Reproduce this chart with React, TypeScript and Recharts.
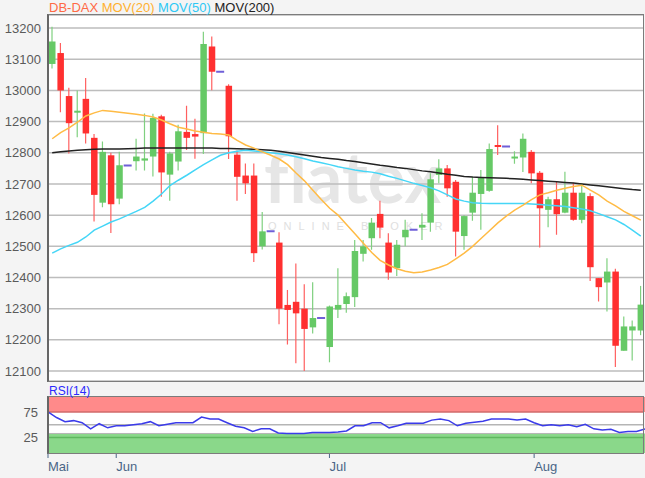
import { ComposedChart, Bar, Line, XAxis, YAxis, CartesianGrid, ReferenceArea, ReferenceLine } from 'recharts';

// daily candles (index 1 = first day shown)
const opens = [13085, 13120, 12982, 12932, 12973, 12848, 12640, 12792, 12653, 12759,
  12773, 12775, 12788, 12917, 12730, 12772, 12867, 12860, 12863, 13141,
  13060, 13015, 12794, 12727, 12727, 12500, 12548, 12512, 12312, 12322,
  12300, 12240, 12270, 12177, 12297, 12315, 12337, 12476, 12526, 12604,
  12512, 12430, 12529, 12553, 12560, 12576, 12729, 12750, 12707, 12533,
  12608, 12668, 12678, 12825, 12820, 12785, 12785, 12803, 12736, 12617,
  12651, 12608, 12672, 12585, 12661, 12398, 12384, 12419, 12165, 12230,
  12230];
const highs = [13204, 13152, 13009, 13000, 13040, 12860, 12836, 12800, 12803, 12759,
  12845, 12926, 12925, 12922, 12803, 12890, 12951, 12909, 13188, 13173,
  13060, 13020, 12807, 12766, 12766, 12610, 12548, 12545, 12360, 12445,
  12378, 12385, 12270, 12310, 12430, 12352, 12520, 12520, 12591, 12646,
  12542, 12520, 12585, 12553, 12606, 12734, 12779, 12761, 12713, 12600,
  12723, 12745, 12830, 12888, 12820, 12805, 12862, 12809, 12742, 12659,
  12707, 12739, 12704, 12702, 12670, 12398, 12462, 12428, 12275, 12262,
  12373];
const lows = [13070, 12930, 12798, 12850, 12830, 12580, 12625, 12543, 12635, 12759,
  12743, 12743, 12724, 12659, 12646, 12743, 12809, 12781, 12796, 13001,
  13060, 12780, 12646, 12668, 12450, 12490, 12548, 12250, 12185, 12125,
  12100, 12220, 12270, 12128, 12270, 12287, 12305, 12451, 12489, 12526,
  12393, 12405, 12500, 12553, 12520, 12547, 12702, 12659, 12467, 12489,
  12582, 12553, 12675, 12793, 12820, 12765, 12738, 12702, 12496, 12561,
  12537, 12606, 12582, 12574, 12389, 12323, 12291, 12113, 12165, 12134,
  12215];
const closes = [13157, 13000, 12895, 12935, 12862, 12665, 12803, 12635, 12760, 12759,
  12788, 12782, 12912, 12737, 12798, 12869, 12848, 12852, 13149, 13060,
  13060, 12853, 12723, 12702, 12478, 12548, 12548, 12300, 12296, 12285,
  12235, 12270, 12270, 12307, 12312, 12340, 12485, 12500, 12576, 12560,
  12416, 12505, 12553, 12553, 12569, 12715, 12750, 12686, 12547, 12597,
  12672, 12721, 12812, 12822, 12820, 12788, 12845, 12734, 12622, 12651,
  12603, 12672, 12585, 12672, 12433, 12369, 12419, 12181, 12243, 12243,
  12313];

const ma20 = [12845, 12865, 12880, 12898, 12918, 12928, 12936, 12933, 12930, 12927,
  12924, 12920, 12915, 12905, 12893, 12882, 12876, 12870, 12866, 12862,
  12860, 12857, 12840, 12825, 12815, 12803, 12792, 12780, 12762, 12735,
  12710, 12680, 12650, 12622, 12600, 12570, 12540, 12510, 12480, 12455,
  12440, 12428, 12420, 12415, 12418, 12424, 12432, 12442, 12460, 12478,
  12500, 12525, 12550, 12575, 12597, 12616, 12632, 12650, 12665, 12672,
  12680, 12686, 12692, 12696, 12680, 12665, 12645, 12630, 12612, 12598,
  12584];
const ma50 = [12478, 12492, 12503, 12513, 12530, 12552, 12565, 12578, 12588, 12600,
  12612, 12625, 12645, 12668, 12695, 12712, 12728, 12745, 12762, 12777,
  12792, 12800, 12805, 12808, 12806, 12803, 12800, 12797, 12793, 12787,
  12781, 12774, 12768, 12762, 12755, 12750, 12745, 12741, 12738, 12733,
  12725, 12718, 12710, 12702, 12695, 12688, 12678, 12665, 12652, 12645,
  12640, 12638, 12637, 12637, 12637, 12637, 12637, 12636, 12634, 12632,
  12630, 12628, 12624, 12620, 12614, 12605, 12595, 12585, 12570, 12552,
  12533];
const ma200 = [12800, 12803, 12806, 12808, 12810, 12811, 12812, 12812, 12812, 12813,
  12814, 12815, 12815, 12815, 12815, 12815, 12815, 12815, 12815, 12815,
  12814, 12814, 12813, 12812, 12811, 12810, 12808, 12805, 12801, 12797,
  12793, 12789, 12785, 12782, 12779, 12775, 12772, 12768, 12764, 12760,
  12757, 12753, 12750, 12746, 12742, 12739, 12735, 12731, 12728, 12724,
  12722, 12721, 12720, 12719, 12718, 12717, 12715, 12713, 12711, 12709,
  12707, 12705, 12703, 12700, 12697, 12694, 12691, 12688, 12685, 12682,
  12680];
const rsi = [75, 64, 56, 58, 54, 42, 52, 44, 48, 48,
  50, 52, 56, 48, 51, 54, 54, 54, 65, 61,
  61, 54, 47, 44, 37, 42, 42, 34, 33, 33,
  33, 35, 35, 35, 36, 38, 48, 48, 54, 54,
  44, 48, 53, 53, 53, 59, 61, 58, 48, 53,
  55, 57, 61, 61, 61, 59, 61, 54, 48, 50,
  48, 50, 46, 51, 42, 40, 41, 35, 37, 37,
  42];

const priceTicks = [12100, 12200, 12300, 12400, 12500, 12600, 12700, 12800, 12900, 13000, 13100, 13200];
const rsiTicks = [25, 75];
const monthTicks = [1, 9, 34, 58];
const monthLabels = ['Mai', 'Jun', 'Jul', 'Aug'];

const data = opens.map((o, i) => ({
  i: i + 1,
  o,
  h: highs[i],
  l: lows[i],
  c: closes[i],
  ma20: ma20[i],
  ma50: ma50[i],
  ma200: ma200[i],
  rsi: rsi[i],
}));

const FONT = '"Liberation Sans", Arial, sans-serif';

function Candle(props: any) {
  const { x, y, width, height, payload } = props;
  const { o, h, l, c } = payload;
  const cx = x + width / 2;
  if (h === l) {
    return <line x1={cx - 4} x2={cx + 4} y1={y} y2={y} stroke="#6f5fd8" strokeWidth={2} />;
  }
  const top = Math.min(y, y + height);
  const k = Math.abs(height) / (h - l);
  const yo = top + (h - o) * k;
  const yc = top + (h - c) * k;
  const up = c >= o;
  const bodyTop = Math.min(yo, yc);
  const bodyH = Math.max(2, Math.abs(yc - yo));
  return (
    <g>
      <line x1={cx} x2={cx} y1={top} y2={top + Math.abs(height)} stroke={up ? '#7fd07f' : '#ff6060'} strokeWidth={1.2} />
      <rect x={cx - 3} y={bodyTop} width={6.5} height={bodyH} fill={up ? '#66c966' : '#ff3030'} />
    </g>
  );
}

function MonthTick(props: any) {
  const { x, y, payload } = props;
  return (
    <text x={x} y={y + 13} fill="#4a6687" fontSize={13} fontFamily={FONT} textAnchor="start">
      {monthLabels[monthTicks.indexOf(payload.value)]}
    </text>
  );
}

export default function App() {
  return (
    <div style={{ position: 'absolute', left: 0, top: 0, width: 645, height: 478, background: '#f4f4f4', fontFamily: FONT, overflow: 'hidden' }}>
      <div style={{ position: 'absolute', left: 48, top: 15, width: 595, height: 366, background: '#fff' }} />
      <div style={{ position: 'absolute', left: 48, top: 397, width: 595, height: 56, background: '#fff' }} />
      <svg width={645} height={478} style={{ position: 'absolute', left: 0, top: 0 }}>
        <text x={264} y={203} fontSize={70} fontWeight={700} fontFamily="Lato, sans-serif" fill="#e6e6e6">flatex</text>
        <text x={268} y={230} fontSize={11} letterSpacing={7} fontFamily={FONT} fill="#e0e0e0">ONLINE BROKER</text>
      </svg>

      <div style={{ position: 'absolute', left: 0, top: 0 }}>
        <ComposedChart width={645} height={390} data={data} margin={{ top: 15, right: 2, left: 0, bottom: 9 }}>
          <CartesianGrid vertical={false} stroke="#bdbdbd" strokeWidth={1.5} />
          <XAxis dataKey="i" type="category" hide padding={{ left: 0, right: -2 }} />
          <YAxis
            type="number"
            domain={[12068, 13242]}
            allowDataOverflow
            ticks={priceTicks}
            width={48}
            axisLine={false}
            tickLine={false}
            tickSize={5}
            tickMargin={2}
            tick={{ fontSize: 13, fill: '#5a5a5a', fontFamily: FONT }}
          />
          <Line dataKey="ma200" stroke="#222" strokeWidth={1.5} dot={false} isAnimationActive={false} />
          <Line dataKey="ma50" stroke="#45d6f7" strokeWidth={1.5} dot={false} isAnimationActive={false} />
          <Line dataKey="ma20" stroke="#ffbb45" strokeWidth={1.5} dot={false} isAnimationActive={false} />
          <Bar dataKey={(d: any) => [d.l, d.h]} barSize={6} shape={(p: any) => <Candle {...p} />} isAnimationActive={false} />
        </ComposedChart>
      </div>

      <div style={{ position: 'absolute', left: 0, top: 380 }}>
        <ComposedChart width={645} height={98} data={data} margin={{ top: 17, right: 2, left: 0, bottom: 0 }}>
          <ReferenceArea y1={75} y2={104} fill="#ff8a8a" fillOpacity={1} stroke="none" />
          <ReferenceArea y1={-5} y2={33} fill="#8ad88a" fillOpacity={1} stroke="none" />
          <ReferenceLine y={33} stroke="#b5b5b5" strokeWidth={1} />
          <ReferenceLine y={50} stroke="#b5b5b5" strokeWidth={1.5} />
          <ReferenceLine y={75} stroke="#d06a6a" strokeWidth={1.5} />
          <ReferenceLine y={25} stroke="#5fb85f" strokeWidth={1.5} />
          <XAxis
            dataKey="i"
            type="category"
            ticks={monthTicks}
            interval={0}
            height={25}
            padding={{ left: 0, right: -2 }}
            axisLine={false}
            tickLine={{ stroke: '#4a6687' }}
            tickSize={5}
            tickMargin={0}
            tick={<MonthTick />}
          />
          <YAxis
            type="number"
            domain={[-5, 104]}
            allowDataOverflow
            ticks={rsiTicks}
            width={48}
            axisLine={false}
            tickLine={false}
            tickSize={8}
            tickMargin={2}
            tick={{ fontSize: 13, fill: '#5a5a5a', fontFamily: FONT }}
          />
          <Line dataKey="rsi" stroke="#3b3bea" strokeWidth={1.5} dot={false} isAnimationActive={false} />
        </ComposedChart>
      </div>

      <div style={{ position: 'absolute', left: 47, top: 14, width: 597, height: 368, boxSizing: 'border-box', border: '1px solid #7c7c7c', borderLeft: '2px solid #666' }} />
      <div style={{ position: 'absolute', left: 47, top: 396, width: 597, height: 58, boxSizing: 'border-box', border: '1px solid #7c7c7c', borderLeft: '2px solid #666' }} />

      <div style={{ position: 'absolute', left: 49, top: 0, fontSize: 13, lineHeight: '16px', whiteSpace: 'nowrap' }}>
        <span style={{ color: '#ff6a45' }}>DB-DAX</span>{' '}
        <span style={{ color: '#ffb030' }}>MOV(20)</span>{' '}
        <span style={{ color: '#2ec8f5' }}>MOV(50)</span>{' '}
        <span style={{ color: '#222' }}>MOV(200)</span>
      </div>
      <div style={{ position: 'absolute', left: 49, top: 384, fontSize: 12, lineHeight: '14px', color: '#2a2aff' }}>RSI(14)</div>
    </div>
  );
}
